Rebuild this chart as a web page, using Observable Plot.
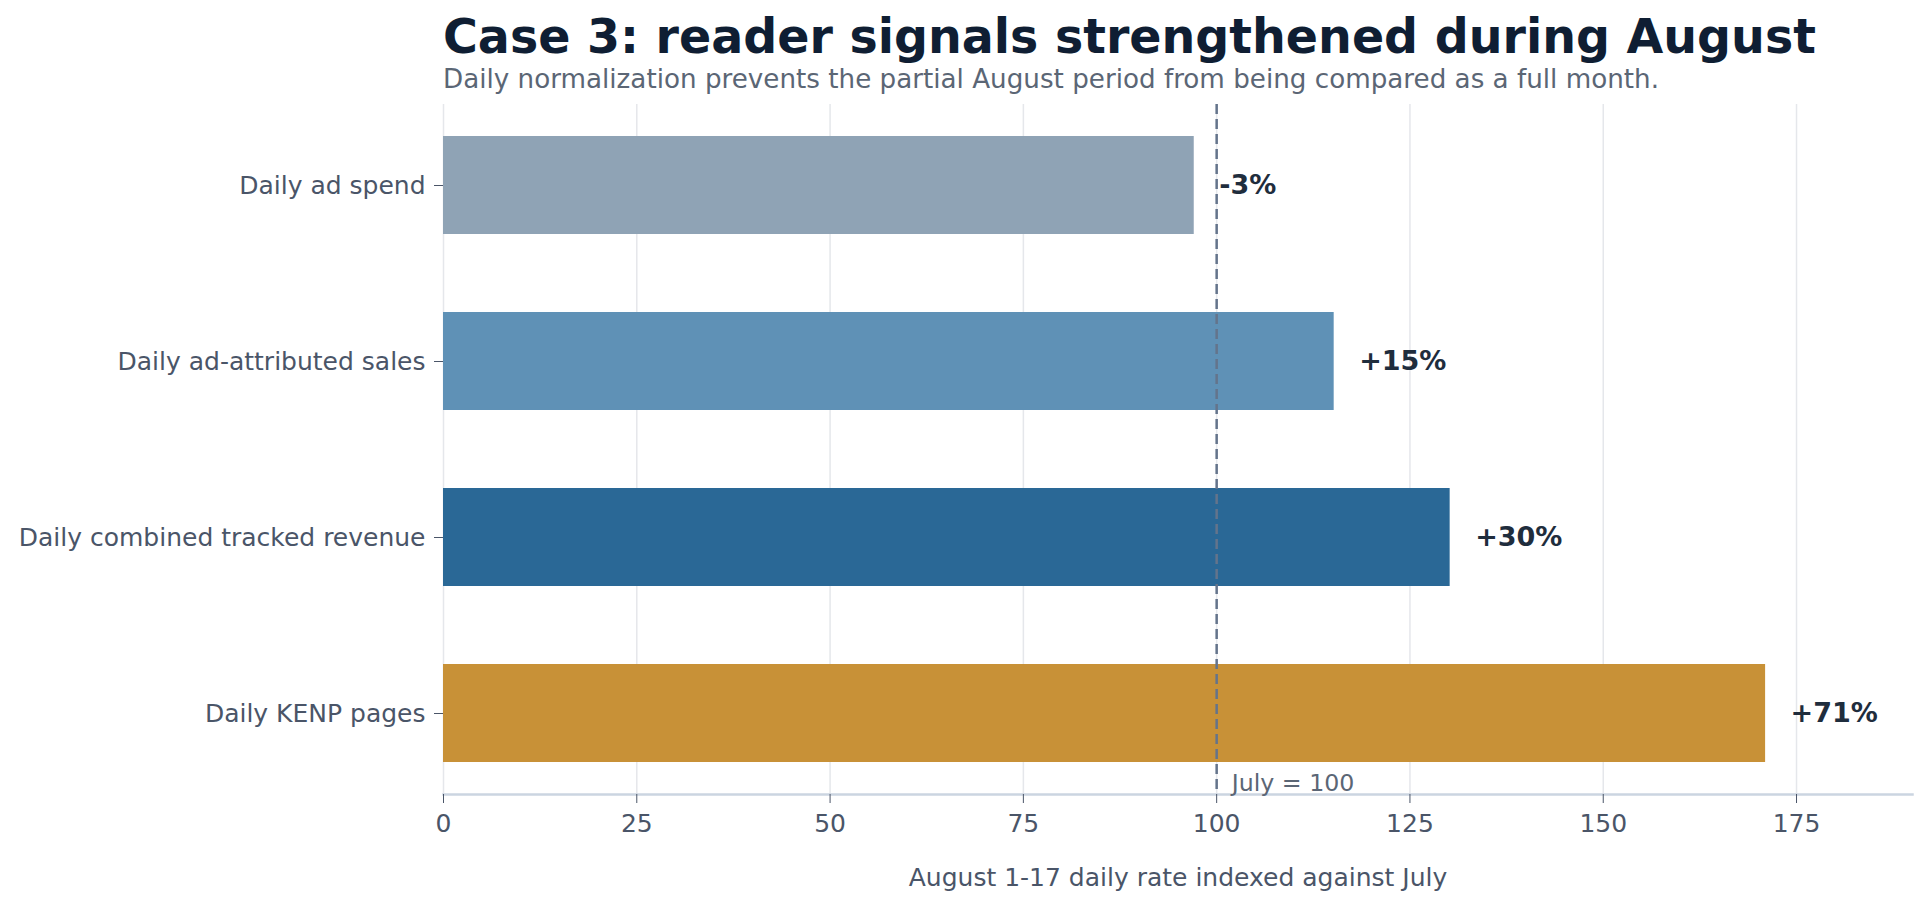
<!DOCTYPE html>
<html>
<head>
<meta charset="utf-8">
<script src="https://cdn.jsdelivr.net/npm/d3@7"></script>
<script src="https://cdn.jsdelivr.net/npm/@observablehq/plot@0.6"></script>
<style>
  html, body { margin: 0; padding: 0; background: #ffffff; }
  #wrap { position: relative; width: 1929px; height: 908px; overflow: hidden; font-family: "DejaVu Sans", sans-serif; }
  #title { position: absolute; left: 443px; top: 13px; font-size: 47.5px; line-height: 47.5px; font-weight: bold; color: #0f1e33; white-space: nowrap; }
  #subtitle { position: absolute; left: 443px; top: 66px; font-size: 26.2px; line-height: 26.2px; color: #5b6675; white-space: nowrap; }
  #chart { position: absolute; left: 0; top: 100px; }
</style>
</head>
<body>
<div id="wrap">
  <div id="title">Case 3: reader signals strengthened during August</div>
  <div id="subtitle">Daily normalization prevents the partial August period from being compared as a full month.</div>
  <div id="chart"></div>
</div>
<script>
const categories = ["Daily ad spend", "Daily ad-attributed sales", "Daily combined tracked revenue", "Daily KENP pages"];
const indexValues = [97.1, 115.2, 130.2, 171.0];
const changeLabels = ["-3%", "+15%", "+30%", "+71%"];
const barColors = ["#8fa3b5", "#5f91b6", "#2a6896", "#c89137"];
const xTicks = [0, 25, 50, 75, 100, 125, 150, 175];
const baselineValue = 100;
const baselineLabel = "July = 100";
const xAxisTitle = "August 1-17 daily rate indexed against July";

const rows = categories.map((c, i) => ({category: c, value: indexValues[i], label: changeLabels[i]}));

const chart = Plot.plot({
  width: 1929,
  height: 808,
  marginLeft: 443,
  marginRight: 17,
  marginTop: 4,
  marginBottom: 114,
  style: {fontFamily: "DejaVu Sans", fontSize: "25px", color: "#4a5568", background: "#ffffff", overflow: "visible"},
  x: {domain: [0, 190]},
  y: {domain: categories, paddingInner: 0.442, paddingOuter: 0.181},
  color: {domain: categories, range: barColors},
  marks: [
    Plot.ruleX(xTicks, {stroke: "#e5e7eb", strokeWidth: 1.5}),
    Plot.barX(rows, {x: "value", y: "category", fill: "category"}),
    Plot.ruleX([baselineValue], {stroke: "#64748b", strokeWidth: 2.5, strokeDasharray: "10,5"}),
    Plot.frame({anchor: "bottom", stroke: "#cbd5e1", strokeWidth: 2.5}),
    Plot.axisX({ticks: xTicks, tickSize: 9, tickPadding: 11, tickFormat: d => String(d), label: null}),
    Plot.axisY({tickSize: 9, tickPadding: 9, label: null}),
    Plot.text(rows, {x: "value", y: "category", text: "label", dx: 25, textAnchor: "start", fontWeight: "bold", fontSize: 27, fill: "#1f2d3d"}),
    Plot.text([{x: baselineValue, t: baselineLabel}], {x: "x", text: "t", frameAnchor: "bottom", dx: 15, dy: -4, lineAnchor: "bottom", textAnchor: "start", fontSize: 23.7, fill: "#5b6675"}),
    Plot.text([xAxisTitle], {text: d => d, frameAnchor: "bottom", dy: 91, lineAnchor: "bottom", fontSize: 25, fill: "#4a5568"})
  ]
});
document.getElementById("chart").appendChild(chart);
</script>
</body>
</html>
